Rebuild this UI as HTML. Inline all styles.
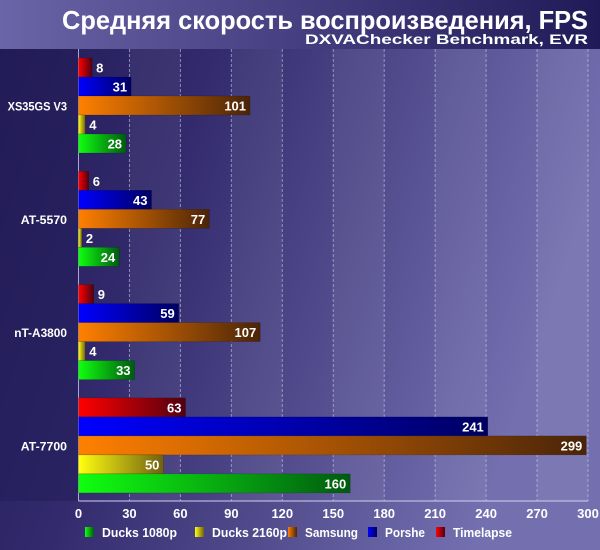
<!DOCTYPE html>
<html><head><meta charset="utf-8"><style>
html,body{margin:0;padding:0;width:600px;height:550px;overflow:hidden;background:#221c58}
svg{display:block;font-family:"Liberation Sans","DejaVu Sans",sans-serif;font-weight:bold}
</style></head><body>
<svg id="chart" width="600" height="550" xmlns="http://www.w3.org/2000/svg">
<defs>
<linearGradient id="bg" x1="0" y1="0" x2="1" y2="0.3">
<stop offset="0" stop-color="#211a55"/><stop offset="0.35" stop-color="#322a6c"/><stop offset="1" stop-color="#7470b0"/></linearGradient>
<linearGradient id="title" x1="0" y1="0" x2="1" y2="0">
<stop offset="0" stop-color="#6a64a8"/><stop offset="1" stop-color="#201a58"/></linearGradient>
<linearGradient id="g0" x1="0" x2="1"><stop offset="0" stop-color="#10ff10"/><stop offset="1" stop-color="#005a10"/></linearGradient>
<linearGradient id="g1" x1="0" x2="1"><stop offset="0" stop-color="#ffff10"/><stop offset="1" stop-color="#706010"/></linearGradient>
<linearGradient id="g2" x1="0" x2="1"><stop offset="0" stop-color="#ff8000"/><stop offset="1" stop-color="#4a2408"/></linearGradient>
<linearGradient id="g3" x1="0" x2="1"><stop offset="0" stop-color="#0000ff"/><stop offset="1" stop-color="#000060"/></linearGradient>
<linearGradient id="g4" x1="0" x2="1"><stop offset="0" stop-color="#ff0000"/><stop offset="1" stop-color="#500010"/></linearGradient>
</defs>
<rect x="0" y="0" width="600" height="550" fill="url(#bg)"/>
<rect x="0" y="49" width="78" height="452" fill="#221c58" opacity="0.5"/>
<rect x="0" y="0" width="600" height="49" fill="url(#title)"/>
<text x="588" y="29" text-anchor="end" font-size="26" textLength="526" lengthAdjust="spacingAndGlyphs" fill="#fff">Средняя скорость воспроизведения, FPS</text>
<text x="588" y="44" text-anchor="end" font-size="14" textLength="283" lengthAdjust="spacingAndGlyphs" fill="#fff">DXVAChecker Benchmark, EVR</text>
<g id="grid"></g><g id="bars"></g><g id="axis"></g><g id="legend"></g>
</svg>
<script>
const categories = ["XS35GS V3","AT-5570","nT-A3800","AT-7700"];
const seriesNames = ["Ducks 1080p","Ducks 2160p","Samsung","Porshe","Timelapse"];
const ducks1080 = [28,24,33,160];
const ducks2160 = [4,2,4,50];
const samsung = [101,77,107,299];
const porshe = [31,43,59,241];
const timelapse = [8,6,9,63];
const ticks = [0,30,60,90,120,150,180,210,240,270,300];

const series = [ducks1080,ducks2160,samsung,porshe,timelapse];
const X0=78.5, X1=588, VMAX=300, BOT=501;
const xs = v => X0 + (X1-X0)*v/VMAX;
const groupTop = i => 58 + i*113.3;
const BH = 19;
const NS="http://www.w3.org/2000/svg";
function mk(tag, attrs, parent){const e=document.createElementNS(NS,tag);for(const k in attrs)e.setAttribute(k,attrs[k]);parent.appendChild(e);return e;}
const grid=document.getElementById('grid'), bars=document.getElementById('bars'), axis=document.getElementById('axis'), legend=document.getElementById('legend');

ticks.forEach((t,i)=>{
  if(i<ticks.length-1 && i%2===1){
    const r=mk('rect',{x:xs(t),y:49,width:xs(ticks[i+1])-xs(t),height:BOT-49,fill:'#ffffff','fill-opacity':0.06},grid);
    
    
  }
  const l=mk('line',{x1:xs(t),x2:xs(t),y1:49,y2:BOT,stroke:'#c8c8e8','stroke-width':1,'stroke-dasharray':i===0?'none':'3,2','stroke-opacity':i===0?0.8:0.6},grid);
  
  
  const tx=mk('text',{x:xs(t),y:518,'text-anchor':'middle','font-size':13,fill:'#fff'},axis);
  tx.textContent=t;
  
  
});
const ax=mk('line',{x1:X0,x2:X1,y1:BOT,y2:BOT,stroke:'#d0d0f0','stroke-width':1},axis);



categories.forEach((c,ci)=>{
  const gt=groupTop(ci);
  for(let k=0;k<5;k++){
    const si=4-k, v=series[si][ci], y=gt+k*BH, w=xs(v)-X0;
    const r=mk('rect',{x:X0,y:y,width:w,height:BH,fill:'url(#g'+si+')',stroke:'rgba(0,0,0,0.25)','stroke-width':0.5},bars);
    
    
    const inside = w>30;
    const t=mk('text',{x:inside?xs(v)-4:xs(v)+4,y:y+14.5,'text-anchor':inside?'end':'start','font-size':13,fill:'#fff'},bars);
    t.textContent=v;
    
    
  }
  const lab=mk('text',{x:67,y:gt+2*BH+14.5,'text-anchor':'end','font-size':12,fill:'#fff',textLength:c.length*6.6,lengthAdjust:'spacingAndGlyphs'},axis);
  lab.textContent=c;
  
  
});

const lx=[85,195,288,368,436];
const lw=[75,75,53,40,59];
seriesNames.forEach((n,i)=>{
  const r=mk('rect',{x:lx[i],y:527,width:9,height:10,fill:'url(#g'+i+')'},legend);
  
  
  const t=mk('text',{x:lx[i]+17,y:537,'font-size':13,fill:'#fff',textLength:lw[i],lengthAdjust:'spacingAndGlyphs'},legend);
  t.textContent=n;
  
  
});
</script>
</body></html>
